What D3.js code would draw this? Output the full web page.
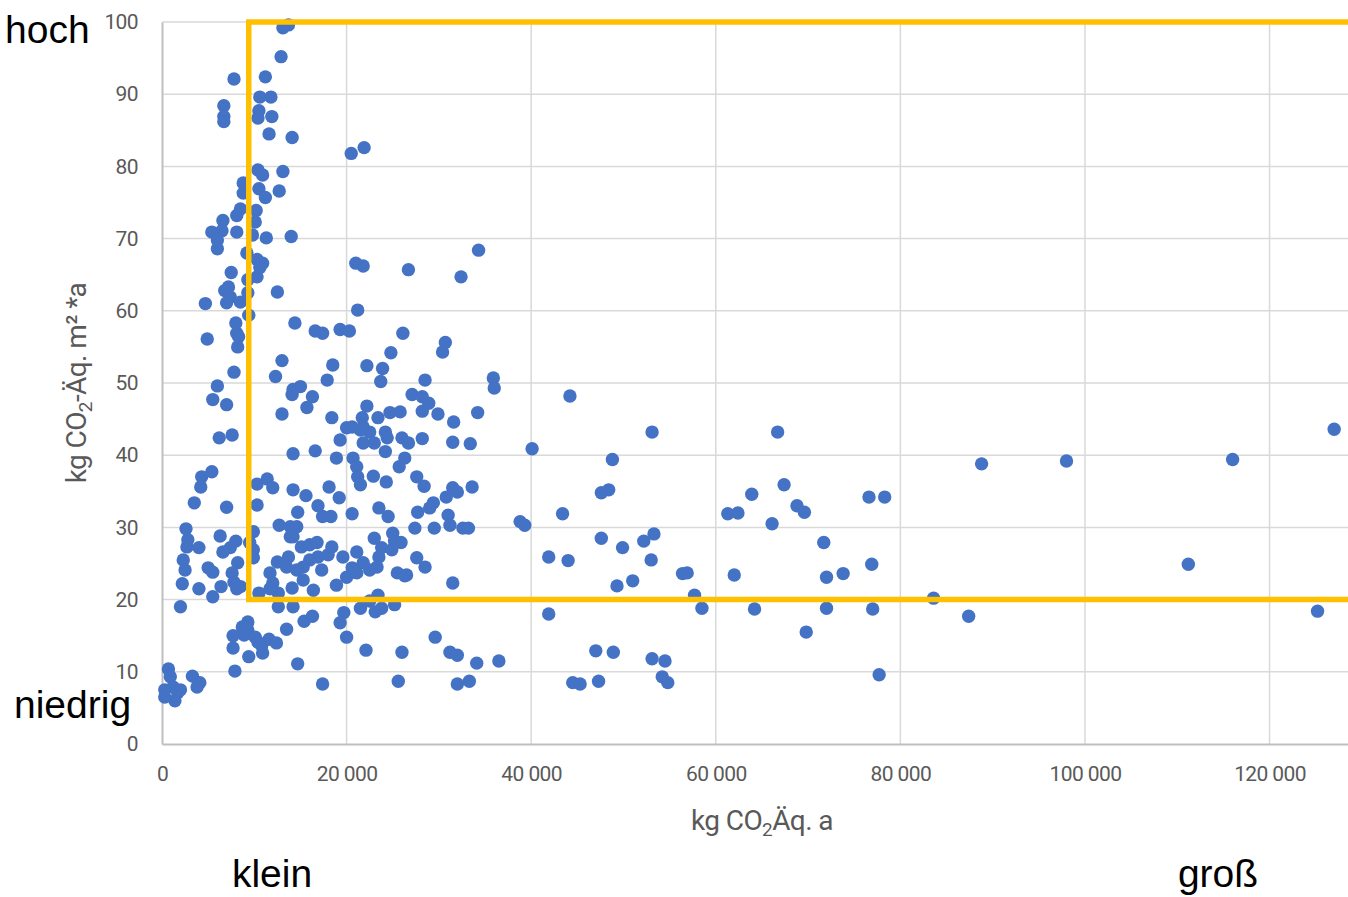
<!DOCTYPE html>
<html>
<head>
<meta charset="utf-8">
<script src="https://cdn.jsdelivr.net/npm/d3@7"></script>
<style>
  body { margin: 0; background: #fff; }
  #app { width: 1348px; height: 897px; }
  .tick-label { font-family: "Roboto", sans-serif; fill: #595959; letter-spacing: -0.6px; }
  .corner { font-family: "Liberation Sans", Arial, sans-serif; fill: #000; }
</style>
</head>
<body>
<div id="app"></div>
<script>
;(() => {

    // points: [emissions in t CO2-eq per year, kg CO2-eq per m² and year]
    const points = [
        [13.7,99.6],[13.1,99.2],[12.9,95.2],[7.8,92.1],[11.2,92.4],[10.6,89.6],[11.8,89.6],[6.7,88.4],[6.7,86.9],[6.7,86.2],
        [10.5,87.7],[10.4,86.7],[11.9,86.9],[11.6,84.5],[14.1,84.0],[20.5,81.8],[21.9,82.6],[10.4,79.5],[10.9,78.8],[13.1,79.3],
        [8.8,77.7],[10.5,76.9],[11.2,75.7],[12.7,76.6],[8.8,76.3],[8.5,74.1],[8.1,73.2],[10.2,73.9],[10.1,72.3],[6.6,72.5],
        [5.4,70.9],[6.5,71.1],[8.1,70.9],[6.0,69.8],[6.0,68.6],[9.8,70.5],[11.3,70.1],[14.0,70.3],[9.2,68.0],[10.3,67.1],
        [10.9,66.6],[10.6,66.0],[7.5,65.3],[10.3,64.7],[9.3,64.3],[7.2,63.3],[6.8,62.8],[7.4,61.9],[7.0,61.1],[8.5,61.2],
        [9.3,62.5],[12.5,62.6],[4.7,61.0],[21.0,66.6],[21.8,66.2],[26.7,65.7],[32.4,64.7],[34.3,68.4],[21.2,60.1],[9.4,59.4],
        [8.0,58.3],[8.1,56.9],[8.3,56.4],[4.9,56.1],[8.2,55.0],[14.4,58.3],[16.6,57.2],[17.4,56.9],[19.3,57.4],[20.3,57.2],
        [26.1,56.9],[30.7,55.6],[30.4,54.3],[13.0,53.1],[18.5,52.5],[22.2,52.4],[23.9,52.0],[24.8,54.2],[12.3,50.9],[17.9,50.4],
        [23.7,50.2],[28.5,50.4],[35.9,50.7],[36.0,49.3],[6.0,49.6],[15.0,49.5],[14.2,49.1],[14.1,48.4],[7.8,51.5],[5.5,47.7],
        [7.0,47.0],[16.3,48.1],[15.7,46.6],[13.0,45.7],[18.4,45.2],[22.2,46.8],[23.4,45.2],[24.7,45.9],[25.8,46.0],[27.1,48.4],
        [28.2,48.1],[28.9,47.2],[28.2,46.1],[29.9,45.7],[31.6,44.6],[34.2,45.9],[44.2,48.2],[6.2,42.4],[7.6,42.8],[20.0,43.8],
        [20.6,43.9],[21.7,45.2],[21.8,43.9],[22.5,43.2],[19.3,42.1],[21.8,41.7],[23.0,41.7],[24.2,43.2],[24.4,42.4],[21.5,43.5],
        [26.0,42.4],[26.7,41.7],[28.2,42.3],[31.5,41.8],[33.4,41.6],[40.1,40.9],[53.1,43.2],[66.7,43.2],[127.0,43.6],[16.6,40.6],
        [14.2,40.2],[24.2,40.5],[18.9,39.6],[20.7,39.6],[21.1,38.4],[21.2,37.0],[21.5,35.9],[22.9,37.1],[24.3,36.3],[26.3,39.6],
        [25.7,38.4],[27.6,37.0],[28.4,35.7],[31.5,35.5],[32.0,34.9],[33.6,35.6],[30.8,34.2],[29.4,33.4],[29.0,32.7],[31.0,31.7],
        [31.2,30.3],[32.6,29.9],[33.2,29.9],[27.4,29.9],[29.5,29.9],[48.8,39.4],[47.6,34.8],[48.4,35.2],[43.4,31.9],[38.8,30.8],
        [39.3,30.3],[63.9,34.6],[67.4,35.9],[61.3,31.9],[62.4,32.0],[68.8,33.0],[69.6,32.1],[66.1,30.5],[76.6,34.2],[78.3,34.2],
        [88.8,38.8],[98.0,39.2],[116.0,39.4],[111.2,24.9],[41.9,25.9],[44.0,25.4],[47.6,28.5],[49.9,27.2],[52.2,28.1],[53.3,29.1],
        [53.0,25.5],[49.3,21.9],[51.0,22.6],[56.4,23.6],[56.9,23.7],[62.0,23.4],[71.7,27.9],[72.0,23.1],[73.8,23.6],[76.9,24.9],
        [57.7,20.6],[83.6,20.2],[4.3,37.0],[5.4,37.7],[4.2,35.6],[3.5,33.4],[7.0,32.8],[10.3,36.0],[11.4,36.7],[12.0,35.5],
        [10.3,33.1],[14.2,35.2],[15.6,34.4],[18.1,35.6],[19.2,34.1],[16.9,33.0],[14.7,32.1],[17.4,31.5],[18.3,31.5],[20.6,31.9],
        [23.5,32.7],[24.5,31.5],[27.7,32.1],[2.6,29.8],[2.8,28.3],[2.7,27.3],[4.0,27.2],[6.3,28.8],[8.0,28.1],[7.4,27.2],
        [6.6,26.6],[9.9,29.4],[12.7,30.3],[13.9,30.1],[14.6,30.1],[13.9,28.7],[15.1,27.3],[16.0,27.6],[16.8,27.9],[16.9,25.9],
        [16.0,25.5],[15.3,24.5],[13.7,25.9],[13.5,24.5],[12.5,25.2],[11.7,23.7],[8.2,25.1],[7.6,23.7],[5.5,23.8],[5.0,24.4],
        [2.3,25.5],[2.5,24.1],[9.9,26.9],[9.9,25.8],[18.4,27.3],[19.6,25.9],[21.1,26.6],[21.8,25.1],[21.1,23.7],[20.6,24.4],
        [23.0,28.5],[23.8,27.2],[23.5,25.9],[25.0,29.2],[25.2,28.1],[25.9,27.9],[24.9,26.9],[27.6,25.8],[28.5,24.5],[23.3,24.5],
        [22.5,24.1],[25.5,23.7],[26.5,23.4],[2.2,22.2],[4.0,21.5],[6.4,21.8],[5.5,20.4],[2.0,19.0],[8.5,21.8],[8.1,21.5],
        [7.8,22.4],[9.5,27.9],[10.5,20.9],[12.6,20.9],[12.0,22.3],[11.7,21.5],[14.2,28.7],[14.6,24.1],[15.3,22.7],[16.4,21.3],
        [14.1,21.6],[17.3,24.1],[18.0,26.2],[18.9,22.0],[20.0,23.1],[20.9,23.8],[23.4,20.6],[22.5,19.8],[25.2,19.3],[21.5,18.8],
        [23.1,18.3],[23.8,18.8],[19.7,18.2],[19.3,16.8],[20.0,14.8],[31.5,22.3],[26.3,23.3],[58.5,18.8],[64.2,18.7],[72.0,18.8],
        [77.0,18.7],[87.4,17.7],[125.2,18.4],[69.8,15.5],[41.9,18.0],[12.6,19.0],[14.2,19.0],[16.3,17.7],[15.4,17.0],[13.5,15.9],
        [9.3,16.9],[8.7,16.2],[9.3,15.8],[8.9,15.1],[10.1,14.8],[7.7,15.0],[7.7,13.3],[10.4,14.1],[10.8,13.6],[11.6,14.5],
        [12.4,14.0],[10.9,12.6],[9.4,12.1],[14.7,11.1],[17.4,8.3],[7.9,10.1],[0.7,10.4],[0.9,9.3],[1.2,7.9],[0.3,7.5],
        [1.7,7.1],[1.4,6.0],[0.3,6.5],[3.3,9.4],[4.1,8.5],[3.8,7.9],[2.0,7.5],[29.6,14.8],[22.1,13.0],[26.0,12.7],
        [31.2,12.7],[32.0,12.3],[34.1,11.2],[36.5,11.5],[25.6,8.7],[32.0,8.3],[33.3,8.7],[47.0,12.9],[48.9,12.7],[53.1,11.8],
        [54.5,11.5],[44.5,8.5],[45.3,8.3],[47.3,8.7],[54.2,9.3],[54.8,8.5],[77.7,9.6]
    ]

    const x_ticks = [0, 20000, 40000, 60000, 80000, 100000, 120000]
    const y_ticks = [0, 10, 20, 30, 40, 50, 60, 70, 80, 90, 100]
    const x_max = 128500

    // threshold box: from this emission upward, between these intensities
    const box_x = 9400
    const box_y = [20, 100]

    const corner_labels = [
        {text: 'hoch', x: 5, y: 43, anchor: 'start'},
        {text: 'niedrig', x: 14, y: 718, anchor: 'start'},
        {text: 'klein', x: 272, y: 887, anchor: 'middle'},
        {text: 'groß', x: 1218, y: 887, anchor: 'middle'}
    ]

    const width = 1348
    const height = 897

    const de = d3.formatLocale({decimal: ',', thousands: ' ', grouping: [3], currency: ['', '€']})
    const fmt = de.format(',d')

    const x_scale = d3.scaleLinear()
        .domain([0, x_max])
        .range([162, width])

    const y_scale = d3.scaleLinear()
        .domain([0, 100])
        .range([744, 22])

    const svg = d3.create('svg')
        .attr('viewBox', [0, 0, width, height])
        .attr('width', width)
        .attr('height', height)

    // gridlines
    svg.append('g')
        .selectAll('line')
        .data(y_ticks.filter(d => d > 0))
        .join('line')
        .attr('x1', x_scale(0))
        .attr('x2', width)
        .attr('y1', d => y_scale(d))
        .attr('y2', d => y_scale(d))
        .attr('stroke', '#d9d9d9')
        .attr('stroke-width', 1.5)

    svg.append('g')
        .selectAll('line')
        .data(x_ticks.filter(d => d > 0))
        .join('line')
        .attr('x1', d => x_scale(d))
        .attr('x2', d => x_scale(d))
        .attr('y1', y_scale(100))
        .attr('y2', y_scale(0))
        .attr('stroke', '#d9d9d9')
        .attr('stroke-width', 1.5)

    // axes
    const x_axis = svg.append('g')
        .attr('transform', `translate(0, ${y_scale(0)})`)
        .call(d3.axisBottom(x_scale).tickValues(x_ticks).tickFormat(fmt).tickSize(0).tickPadding(22))
    x_axis.select('.domain').attr('stroke', '#bfbfbf').attr('stroke-width', 2)
    x_axis.selectAll('text')
        .attr('class', 'tick-label')
        .style('font-size', '21px')

    const y_axis = svg.append('g')
        .attr('transform', `translate(${x_scale(0)}, 0)`)
        .call(d3.axisLeft(y_scale).tickValues(y_ticks).tickSize(0).tickPadding(24))
    y_axis.select('.domain').attr('stroke', '#bfbfbf').attr('stroke-width', 2)
    y_axis.selectAll('text')
        .attr('class', 'tick-label')
        .style('font-size', '21px')

    // axis titles
    const x_title = svg.append('text')
        .attr('class', 'tick-label')
        .attr('x', 762)
        .attr('y', 830)
        .attr('text-anchor', 'middle')
        .style('font-size', '28px')
    x_title.append('tspan').text('kg CO')
    x_title.append('tspan').text('2').attr('dy', 6).style('font-size', '19px')
    x_title.append('tspan').text('Äq. a').attr('dy', -6)

    const y_title = svg.append('text')
        .attr('class', 'tick-label')
        .attr('transform', `translate(86, 383) rotate(-90)`)
        .attr('text-anchor', 'middle')
        .style('font-size', '28px')
    y_title.append('tspan').text('kg CO')
    y_title.append('tspan').text('2').attr('dy', 6).style('font-size', '19px')
    y_title.append('tspan').text('-Äq. m² *a').attr('dy', -6)

    // points
    svg.append('g')
        .selectAll('circle')
        .data(points)
        .join('circle')
        .attr('cx', d => x_scale(d[0] * 1000))
        .attr('cy', d => y_scale(d[1]))
        .attr('r', 6.7)
        .attr('fill', '#4472c4')

    // threshold box
    svg.append('path')
        .attr('d', d3.line()([
            [x_scale(x_max) + 10, y_scale(box_y[1])],
            [x_scale(box_x), y_scale(box_y[1])],
            [x_scale(box_x), y_scale(box_y[0])],
            [x_scale(x_max) + 10, y_scale(box_y[0])]
        ]))
        .attr('fill', 'none')
        .attr('stroke', '#ffc000')
        .attr('stroke-width', 5.5)

    // corner words
    svg.append('g')
        .selectAll('text')
        .data(corner_labels)
        .join('text')
        .attr('class', 'corner')
        .attr('x', d => d.x)
        .attr('y', d => d.y)
        .attr('text-anchor', d => d.anchor)
        .style('font-size', '39px')
        .text(d => d.text)

    d3.select('#app').append(() => svg.node())

})()
</script>
</body>
</html>
